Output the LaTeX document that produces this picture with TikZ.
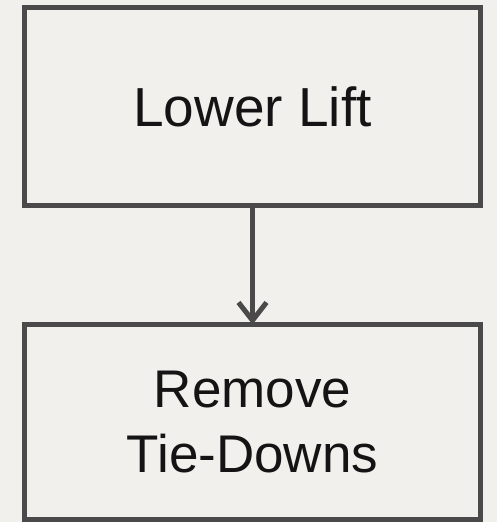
\documentclass[tikz,border=0pt]{standalone}
\usepackage{fontspec}
\setmainfont{Liberation Sans}
\usetikzlibrary{arrows.meta}
\definecolor{paper}{HTML}{F1F0EC}
\definecolor{edge}{HTML}{4A4A4A}
\definecolor{ink}{HTML}{141414}
\tikzset{
  stepbox/.style={draw=edge, line width=5pt, fill=paper, rectangle,
    minimum width=456pt, inner sep=0pt, outer sep=0pt, text=ink, align=center},
  flow/.style={draw=edge, line width=5pt,
    -{Straight Barb[length=18pt, width=28pt, line width=5pt]}}
}
\begin{document}
\begin{tikzpicture}[x=1pt, y=1pt]
  % page background
  \fill[paper] (0,0) rectangle (497,-522);
  \useasboundingbox (0,0) rectangle (497,-522);
  % the two process steps
  \node[stepbox, minimum height=198pt, font=\fontsize{55}{65}\selectfont]
    (lower) at (252.5,-106.5) {Lower Lift};
  \node[stepbox, minimum height=195pt, font=\fontsize{53}{65}\selectfont]
    (remove) at (252.5,-422) {Remove\\Tie-Downs};
  % connector between the steps
  \draw[flow] (lower.south) -- (remove.north);
\end{tikzpicture}
\end{document}
